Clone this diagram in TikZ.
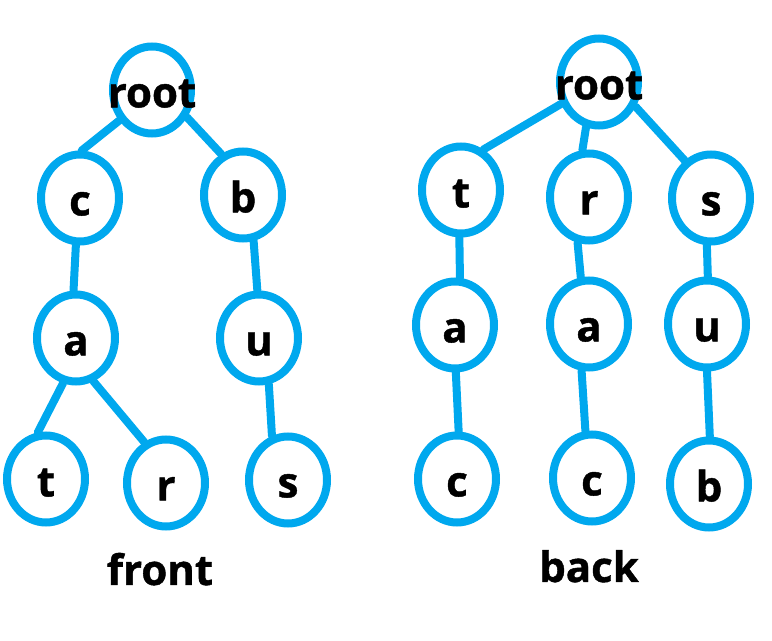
\documentclass[tikz,border=0pt]{standalone}
\usepackage{fontspec}
\setmainfont{Open Sans}[BoldFeatures={FakeBold=1}]
\usepackage{xcolor}
\usetikzlibrary{shapes.geometric, positioning}
\definecolor{trieblue}{RGB}{0,168,238}

\begin{document}
\begin{tikzpicture}[x=0.5pt, y=-0.5pt,
  every node/.style={font=\fontsize{21}{24}\bfseries\selectfont},
  trie/.style={ellipse, draw=trieblue, line width=4pt, minimum width=39pt, minimum height=43.5pt, inner sep=0pt, text height=17.4pt, text depth=0pt},
  link/.style={draw=trieblue, line width=4pt, line cap=round}]
\useasboundingbox (0,0) rectangle (772,641);

% Front trie
\node[trie] (froot) at (152,90) {\makebox[0pt]{root}};
\node[trie] (fc) at (80,198) {c};
\node[trie] (fb) at (243,195) {b};
\node[trie] (fca) at (76,338) {a};
\node[trie] (fbu) at (259,338) {u};
\node[trie] (fcat) at (46,479) {t};
\node[trie] (fcar) at (166,483) {r};
\node[trie] (fbus) at (288,480) {s};
\node[anchor=base] (front) at (160,585) {front};

\draw[link] (froot.-137) -- (fc.88);
\draw[link] (froot.-38) -- (fb.118);
\draw[link] (fc.-95) -- (fca.93);
\draw[link] (fb.-77) -- (fbu.92);
\draw[link] (fca.-106) -- (fcat.100);
\draw[link] (fca.-68) -- (fcar.118);
\draw[link] (fbu.-78) -- (fbus.110);

% Back trie
\node[trie] (broot) at (599,82) {\makebox[0pt]{root}};
\node[trie] (bt) at (461,190) {t};
\node[trie] (br) at (589,197) {r};
\node[trie] (bs) at (711,198) {s};
\node[trie] (bta) at (455,325) {a};
\node[trie] (bra) at (589,324) {a};
\node[trie] (bsu) at (707,324) {u};
\node[trie] (btac) at (457,479) {c};
\node[trie] (brac) at (592,478) {c};
\node[trie] (bsub) at (709,484) {b};
\node[anchor=base] (back) at (589,582) {back};

\draw[link] (broot.-150) -- (bt.61);
\draw[link] (broot.-106) -- (br.98);
\draw[link] (broot.-34) -- (bs.125);
\draw[link] (bt.-92) -- (bta.84);
\draw[link] (br.-104) -- (bra.100);
\draw[link] (bs.-95) -- (bsu.89);
\draw[link] (bta.-89) -- (btac.88);
\draw[link] (bra.-99) -- (brac.98);
\draw[link] (bsu.-90) -- (bsub.89);
\end{tikzpicture}
\end{document}
